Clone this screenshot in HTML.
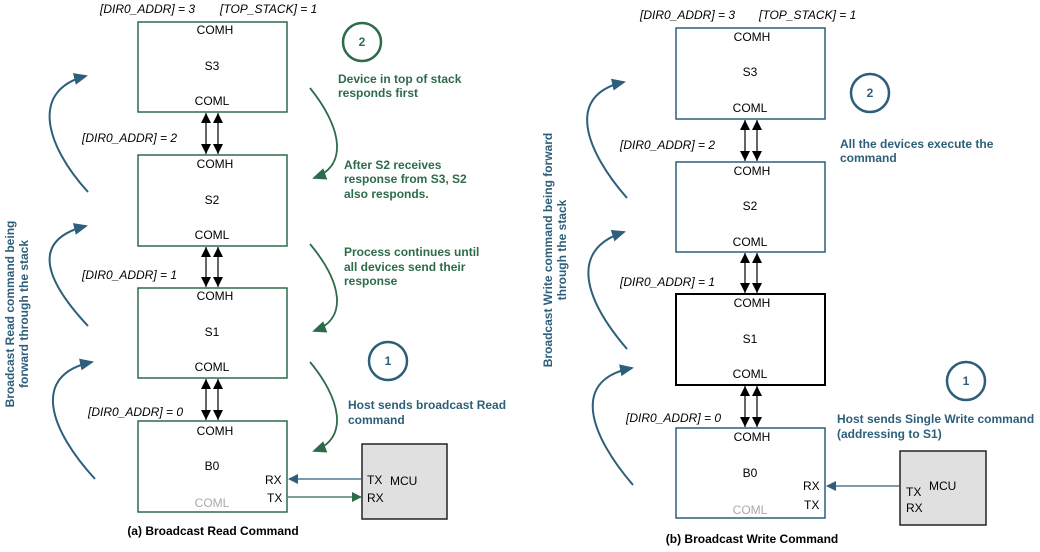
<!DOCTYPE html>
<html><head><meta charset="utf-8"><style>
body{margin:0;background:#fff}
svg text{font-family:"Liberation Sans",Arial,sans-serif}
.l{font-size:12px;fill:#000}
.i{font-size:12px;font-style:italic;fill:#000}
.g{font-size:12px;font-weight:bold;fill:#2e6b4a}
.b{font-size:12px;font-weight:bold;fill:#2d5f7a}
.c{font-size:12px;font-weight:bold;fill:#000}
</style></head><body>
<svg width="1040" height="547" viewBox="0 0 1040 547" xmlns="http://www.w3.org/2000/svg">
<defs>
<marker id="ak" markerWidth="10" markerHeight="10" refX="10" refY="5" orient="auto-start-reverse" markerUnits="userSpaceOnUse"><path d="M0,0 L10,5 L0,10z" fill="#000"/></marker>
<marker id="ab" markerWidth="14" markerHeight="12" refX="12" refY="6" orient="auto" markerUnits="userSpaceOnUse"><path d="M0,0 L14,6 L0,12z" fill="#2d5f7a"/></marker>
<marker id="ag" markerWidth="14" markerHeight="12" refX="12" refY="6" orient="auto" markerUnits="userSpaceOnUse"><path d="M0,0 L14,6 L0,12z" fill="#2e6b4a"/></marker>
<marker id="sb" markerWidth="10" markerHeight="10" refX="9" refY="5" orient="auto" markerUnits="userSpaceOnUse"><path d="M0,0 L10,5 L0,10z" fill="#2d5f7a"/></marker>
<marker id="sg" markerWidth="10" markerHeight="10" refX="9" refY="5" orient="auto" markerUnits="userSpaceOnUse"><path d="M0,0 L10,5 L0,10z" fill="#2e6b4a"/></marker>
</defs>

<!-- LEFT PANEL -->
<text class="i" x="100" y="13">[DIR0_ADDR] = 3</text>
<text class="i" x="220" y="13">[TOP_STACK] = 1</text>
<g fill="none" stroke="#2e6b4a" stroke-width="1.5">
<rect x="138" y="22" width="149" height="90"/>
<rect x="138" y="155" width="149" height="91"/>
<rect x="138" y="288" width="149" height="90"/>
<rect x="138" y="421" width="149" height="91"/>
</g>
<g text-anchor="middle">
<text class="l" x="215" y="34">COMH</text><text class="l" x="212" y="70">S3</text><text class="l" x="212" y="105">COML</text>
<text class="l" x="215" y="168">COMH</text><text class="l" x="212" y="204">S2</text><text class="l" x="212" y="239">COML</text>
<text class="l" x="215" y="300">COMH</text><text class="l" x="212" y="336">S1</text><text class="l" x="212" y="371">COML</text>
<text class="l" x="215" y="435">COMH</text><text class="l" x="212" y="470">B0</text><text class="l" x="212" y="507" style="fill:#aaa">COML</text>
</g>
<text class="l" x="265" y="484">RX</text><text class="l" x="267" y="502">TX</text>
<g stroke="#000" stroke-width="1.2" marker-start="url(#ak)" marker-end="url(#ak)">
<line x1="206" y1="113" x2="206" y2="154"/><line x1="218" y1="113" x2="218" y2="154"/>
<line x1="206" y1="247" x2="206" y2="287"/><line x1="218" y1="247" x2="218" y2="287"/>
<line x1="206" y1="379" x2="206" y2="420"/><line x1="218" y1="379" x2="218" y2="420"/>
</g>
<text class="i" x="82" y="142">[DIR0_ADDR] = 2</text>
<text class="i" x="82" y="279">[DIR0_ADDR] = 1</text>
<text class="i" x="88" y="416">[DIR0_ADDR] = 0</text>
<circle cx="362" cy="42" r="19" fill="none" stroke="#2e6b4a" stroke-width="2.5"/>
<text class="g" x="362" y="46" text-anchor="middle">2</text>
<circle cx="388" cy="361" r="19" fill="none" stroke="#2d5f7a" stroke-width="2.5"/>
<text class="b" x="388" y="365" text-anchor="middle">1</text>
<text class="g" x="338" y="83">Device in top of stack</text>
<text class="g" x="338" y="97">responds first</text>
<text class="g" x="344" y="169">After S2 receives</text>
<text class="g" x="344" y="183">response from S3, S2</text>
<text class="g" x="344" y="198">also responds.</text>
<text class="g" x="344" y="256">Process continues until</text>
<text class="g" x="344" y="271">all devices send their</text>
<text class="g" x="344" y="285">response</text>
<text class="b" x="348" y="409">Host sends broadcast Read</text>
<text class="b" x="348" y="424">command</text>
<rect x="362" y="444" width="85" height="75" fill="#e0e0e0" stroke="#222" stroke-width="1.5"/>
<text class="l" x="367" y="484">TX</text><text class="l" x="390" y="485">MCU</text><text class="l" x="367" y="502">RX</text>
<line x1="362" y1="479" x2="289" y2="479" stroke="#2d5f7a" stroke-width="1.2" marker-end="url(#sb)"/>
<line x1="288" y1="497" x2="361" y2="497" stroke="#2e6b4a" stroke-width="1.2" marker-end="url(#sg)"/>
<g fill="none" stroke="#2d5f7a" stroke-width="2">
<path d="M88,192 C45,145 30,90 86,76" marker-end="url(#ab)"/>
<path d="M88,326 C45,280 30,240 86,226" marker-end="url(#ab)"/>
<path d="M95,479 C50,430 30,375 92,362" marker-end="url(#ab)"/>
</g>
<g fill="none" stroke="#2e6b4a" stroke-width="1.8">
<path d="M310,88 C340,125 350,165 314,178" marker-end="url(#ag)"/>
<path d="M310,244 C340,280 350,318 314,331" marker-end="url(#ag)"/>
<path d="M310,362 C340,398 350,438 314,451" marker-end="url(#ag)"/>
</g>
<text class="b" transform="translate(14,314) rotate(-90)" text-anchor="middle">Broadcast Read command being</text>
<text class="b" transform="translate(28,314) rotate(-90)" text-anchor="middle">forward through the stack</text>
<text class="c" x="213" y="535" text-anchor="middle">(a) Broadcast Read Command</text>

<!-- RIGHT PANEL -->
<text class="i" x="640" y="19">[DIR0_ADDR] = 3</text>
<text class="i" x="759" y="19">[TOP_STACK] = 1</text>
<g fill="none" stroke="#2d5f7a" stroke-width="1.5">
<rect x="676" y="28" width="149" height="91"/>
<rect x="676" y="162" width="149" height="90"/>
<rect x="676" y="428" width="149" height="90"/>
</g>
<rect x="676" y="294" width="149" height="91" fill="none" stroke="#000" stroke-width="2"/>
<g text-anchor="middle">
<text class="l" x="752" y="41">COMH</text><text class="l" x="750" y="76">S3</text><text class="l" x="750" y="112">COML</text>
<text class="l" x="752" y="175">COMH</text><text class="l" x="750" y="210">S2</text><text class="l" x="750" y="246">COML</text>
<text class="l" x="752" y="307">COMH</text><text class="l" x="750" y="343">S1</text><text class="l" x="750" y="378">COML</text>
<text class="l" x="752" y="441">COMH</text><text class="l" x="750" y="477">B0</text><text class="l" x="750" y="514" style="fill:#aaa">COML</text>
</g>
<text class="l" x="803" y="490">RX</text><text class="l" x="804" y="509">TX</text>
<g stroke="#000" stroke-width="1.2" marker-start="url(#ak)" marker-end="url(#ak)">
<line x1="745" y1="120" x2="745" y2="161"/><line x1="757" y1="120" x2="757" y2="161"/>
<line x1="745" y1="253" x2="745" y2="293"/><line x1="757" y1="253" x2="757" y2="293"/>
<line x1="745" y1="386" x2="745" y2="427"/><line x1="757" y1="386" x2="757" y2="427"/>
</g>
<text class="i" x="620" y="149">[DIR0_ADDR] = 2</text>
<text class="i" x="620" y="286">[DIR0_ADDR] = 1</text>
<text class="i" x="626" y="422">[DIR0_ADDR] = 0</text>
<circle cx="870" cy="93" r="19" fill="none" stroke="#2d5f7a" stroke-width="2.5"/>
<text class="b" x="870" y="97" text-anchor="middle">2</text>
<circle cx="966" cy="381" r="19" fill="none" stroke="#2d5f7a" stroke-width="2.5"/>
<text class="b" x="966" y="385" text-anchor="middle">1</text>
<text class="b" x="840" y="148">All the devices execute the</text>
<text class="b" x="840" y="162">command</text>
<text class="b" x="837" y="423">Host sends Single Write command</text>
<text class="b" x="837" y="438">(addressing to S1)</text>
<rect x="900" y="451" width="86" height="74" fill="#e0e0e0" stroke="#222" stroke-width="1.5"/>
<text class="l" x="906" y="496">TX</text><text class="l" x="929" y="490">MCU</text><text class="l" x="906" y="512">RX</text>
<line x1="900" y1="486" x2="827" y2="486" stroke="#2d5f7a" stroke-width="1.2" marker-end="url(#sb)"/>
<g fill="none" stroke="#2d5f7a" stroke-width="2">
<path d="M627,198 C585,150 565,95 624,82" marker-end="url(#ab)"/>
<path d="M627,349 C585,300 568,250 624,232" marker-end="url(#ab)"/>
<path d="M633,485 C590,435 570,380 632,368" marker-end="url(#ab)"/>
</g>
<text class="b" transform="translate(552,250) rotate(-90)" text-anchor="middle">Broadcast Write command being forward</text>
<text class="b" transform="translate(566,250) rotate(-90)" text-anchor="middle">through the stack</text>
<text class="c" x="752" y="543" text-anchor="middle">(b) Broadcast Write Command</text>
</svg>
</body></html>
